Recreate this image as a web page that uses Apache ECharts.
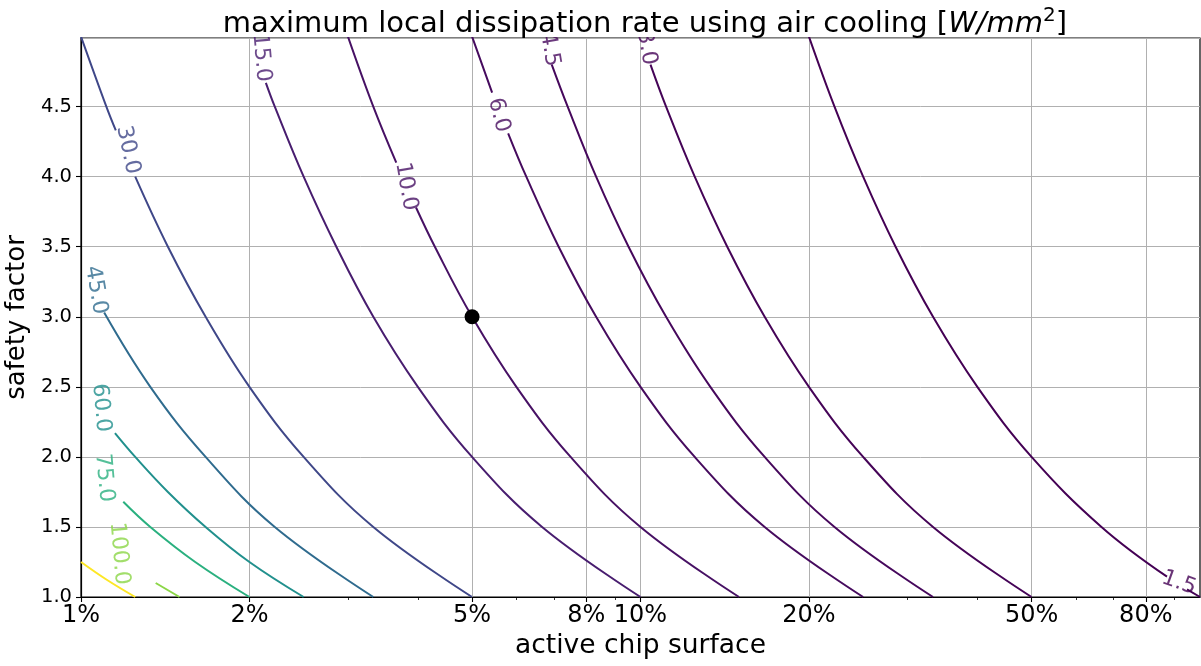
<!DOCTYPE html>
<html>
<head>
<meta charset="UTF-8">
<title>maximum local dissipation rate</title>
<script src="https://cdn.jsdelivr.net/npm/echarts@6/dist/echarts.min.js"></script>
</head>
<body style="margin:0">
<div id="container" style="width:1201px;height:666px"></div>
<script>
// contour levels [W/mm^2] and viridis colours
var levels = [1.5, 3, 4.5, 6, 10, 15, 30, 45, 60, 75, 100, 120];
var levelColors = ['#440154', '#450457', '#46085c', '#460b5e', '#471164', '#481d6f',
    '#3f4788', '#2f6b8e', '#21908d', '#2ab07f', '#8bd646', '#fde725'];

// contour lines: [active chip surface %, safety factor], null = label gap
var line_1_5 = [[20, 5], [22.22, 4.5], [25, 4], [28.57, 3.5], [33.33, 3], [40, 2.5], [50, 2], [66.67, 1.5], [87.3, 1.145], null, [94.8, 1.055], [100, 1]];
var line_3 = [[10.42, 4.8], [11.11, 4.5], [12.5, 4], [14.29, 3.5], [16.67, 3], [20, 2.5], [25, 2], [33.33, 1.5], [50, 1]];
var line_4_5 = [[6.94, 4.8], [7.41, 4.5], [8.33, 4], [9.52, 3.5], [11.11, 3], [13.33, 2.5], [16.67, 2], [22.22, 1.5], [33.33, 1]];
var line_6 = [[5, 5], [5.43, 4.6], null, [5.8, 4.31], [6.25, 4], [7.14, 3.5], [8.33, 3], [10, 2.5], [12.5, 2], [16.67, 1.5], [25, 1]];
var line_10 = [[3, 5], [3.33, 4.5], [3.66, 4.1], null, [3.97, 3.78], [4.29, 3.5], [5, 3], [6, 2.5], [7.5, 2], [10, 1.5], [15, 1]];
var line_15 = [[2.14, 4.67], [2.22, 4.5], [2.5, 4], [2.86, 3.5], [3.33, 3], [4, 2.5], [5, 2], [6.67, 1.5], [10, 1]];
var line_30 = [[1, 5], [1.11, 4.5], [1.154, 4.33], null, [1.25, 4], [1.43, 3.5], [1.67, 3], [2, 2.5], [2.5, 2], [3.33, 1.5], [5, 1]];
var line_45 = [[1.1, 3.03], [1.33, 2.5], [1.67, 2], [2.22, 1.5], [3.33, 1]];
var line_60 = [[1.15, 2.17], [1.25, 2], [1.43, 1.75], [1.67, 1.5], [2, 1.25], [2.5, 1]];
var line_75 = [[1.19, 1.68], [1.33, 1.5], [1.6, 1.25], [2, 1]];
var line_100 = [[1.36, 1.1], [1.5, 1]];
var line_120 = [[1, 1.25], [1.11, 1.125], [1.25, 1]];
var contourLines = [line_1_5, line_3, line_4_5, line_6, line_10, line_15, line_30, line_45, line_60, line_75, line_100, line_120];

// inline contour labels: [x %, y, level]
var contourLabels = [[91.7, 1.10, 1.5], [10.25, 4.92, 3], [6.88, 4.91, 4.5], [5.58, 4.44, 6], [3.81, 3.93, 10],
    [2.10, 4.85, 15], [1.213, 4.19, 30], [1.063, 3.19, 45], [1.086, 2.35, 60], [1.10, 1.85, 75], [1.17, 1.31, 100]];
var labelRotate = [-20, -80, -80, -75, -80, -85, -78, -80, -85, -85, -85];

// design point
var designPoint = [[5, 3]];

var xTicks = [1, 2, 5, 8, 10, 20, 50, 80];
var xMinorTicks = [3, 4, 6, 7, 9, 30, 40, 60, 70, 90];

var font = 'DejaVu Sans';
var dom = document.getElementById('container');
var myChart = echarts.init(dom);

var series = [];
contourLines.forEach(function (pts, i) {
    series.push({
        type: 'line',
        data: pts,
        smooth: 0.4,
        showSymbol: false,
        connectNulls: false,
        lineStyle: {color: levelColors[i], width: 2},
        silent: true,
        z: 3
    });
});

series.push({
    type: 'scatter',
    symbolSize: 0,
    silent: true,
    z: 4,
    data: contourLabels.map(function (d, i) {
        return {
            value: [d[0], d[1]],
            label: {
                show: true,
                position: 'inside',
                formatter: d[2].toFixed(1),
                rotate: labelRotate[i],
                color: levelColors[levels.indexOf(d[2])],
                fontSize: 22,
                fontFamily: font
            }
        };
    })
});

series.push({
    type: 'scatter',
    data: designPoint,
    symbolSize: 15,
    itemStyle: {color: '#000', opacity: 1},
    z: 5
});

var option = {
    animation: false,
    title: {
        text: '{n|maximum local dissipation rate using air cooling [}{i|W/mm}{s|2}{n|]}',
        left: 640,
        top: 1,
        textAlign: 'center',
        z: 60,
        textStyle: {
            fontWeight: 'normal',
            rich: {
                n: {fontSize: 29, fontFamily: font, fontWeight: 'normal', color: '#000', lineHeight: 37},
                i: {fontSize: 29, fontFamily: font, fontWeight: 'normal', fontStyle: 'italic', color: '#000', lineHeight: 37},
                s: {fontSize: 20, fontFamily: font, fontWeight: 'normal', color: '#000', verticalAlign: 'top', lineHeight: 22}
            }
        }
    },
    graphic: [{
        type: 'rect',
        z: 50,
        shape: {x: 0, y: 0, width: 1201, height: 37},
        style: {fill: '#fff'}
    }],
    grid: {
        left: 81, right: 1, top: 38, bottom: 69,
        containLabel: false,
        outerBoundsMode: 'none',
        show: true, borderColor: '#000', borderWidth: 1.2
    },
    xAxis: [{
        type: 'log',
        logBase: 10,
        min: 1,
        max: 100,
        name: 'active chip surface',
        nameLocation: 'middle',
        nameGap: 34,
        nameTextStyle: {fontSize: 26.5, fontFamily: font, color: '#000'},
        axisLine: {lineStyle: {color: '#000', width: 1.2}},
        axisTick: {show: true, length: 5, customValues: xTicks, lineStyle: {color: '#000', width: 1.1}},
        axisLabel: {
            customValues: xTicks, margin: 7, fontSize: 24, fontFamily: font, color: '#000',
            formatter: function (v) { return Math.round(v) + '%'; }
        },
        splitLine: {show: true, lineStyle: {color: '#b0b0b0', width: 1}}
    }, {
        type: 'log',
        logBase: 10,
        min: 1,
        max: 100,
        position: 'bottom',
        axisLine: {show: false},
        axisLabel: {show: false},
        splitLine: {show: false},
        axisTick: {show: true, length: 3, customValues: xMinorTicks, lineStyle: {color: '#000', width: 0.8}}
    }],
    yAxis: {
        type: 'value',
        min: 1,
        max: 4.99,
        interval: 0.5,
        name: 'safety factor',
        nameLocation: 'middle',
        nameGap: 50,
        nameTextStyle: {fontSize: 26, fontFamily: font, color: '#000'},
        axisLine: {show: true, lineStyle: {color: '#000', width: 1.2}},
        axisTick: {show: true, length: 5, lineStyle: {color: '#000', width: 1.1}},
        axisLabel: {
            margin: 9, fontSize: 19.5, fontFamily: font, color: '#000',
            showMaxLabel: false,
            formatter: function (v) { return v.toFixed(1); }
        },
        splitLine: {show: true, lineStyle: {color: '#b0b0b0', width: 1}}
    },
    series: series
};

myChart.setOption(option);
</script>
</body>
</html>
